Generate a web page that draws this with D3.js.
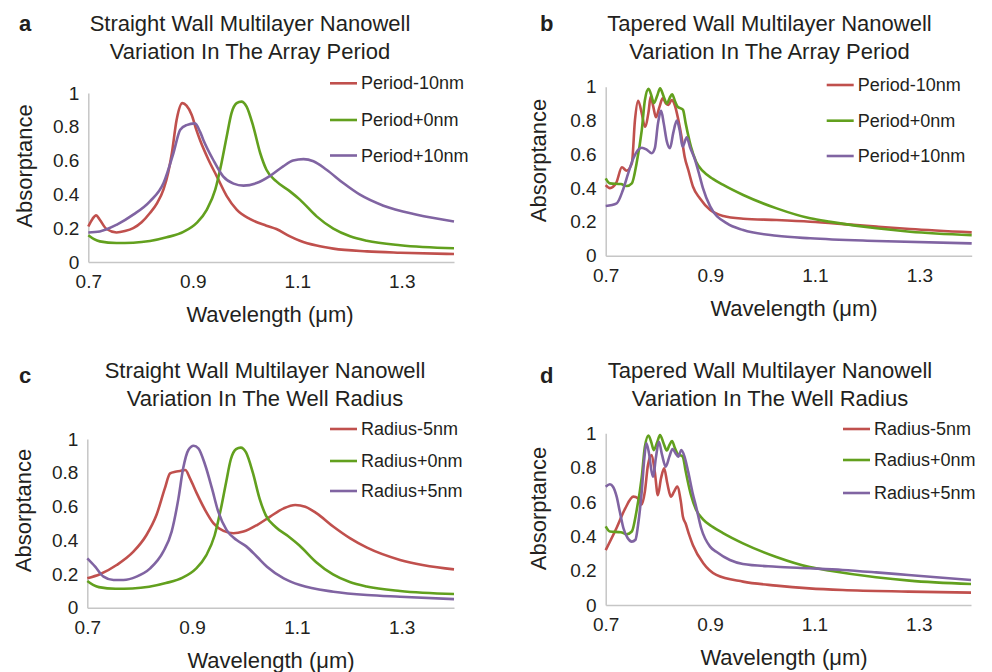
<!DOCTYPE html>
<html>
<head>
<meta charset="utf-8">
<script src="https://cdn.jsdelivr.net/npm/d3@7"></script>
<style>
    body { margin: 0; background: #fff; }
    svg text { font-family: "Liberation Sans", Arial, Helvetica, sans-serif; fill: #231f20; }
</style>
</head>
<body>
<div id="chart-area"></div>
<script>
// values, [wavelength (um), absorptance]

// straight wall, period variation (a)
const straightPeriodMinus10 = [[0.700,0.21],[0.708,0.255],[0.715,0.276],[0.722,0.25],[0.735,0.195],[0.754,0.175],[0.770,0.183],[0.786,0.20],[0.802,0.235],[0.818,0.29],[0.832,0.35],[0.844,0.43],[0.853,0.53],[0.860,0.645],[0.869,0.84],[0.880,0.94],[0.888,0.925],[0.898,0.87],[0.907,0.78],[0.914,0.72],[0.930,0.605],[0.946,0.507],[0.965,0.39],[0.984,0.31],[1.009,0.255],[1.041,0.215],[1.060,0.195],[1.086,0.152],[1.105,0.126],[1.137,0.097],[1.169,0.079],[1.233,0.063],[1.297,0.055],[1.400,0.047]];
// the +0nm curve is the same structure in a and c
const straightBase = [[0.700,0.158],[0.711,0.135],[0.722,0.122],[0.754,0.112],[0.786,0.114],[0.818,0.124],[0.850,0.146],[0.882,0.178],[0.907,0.23],[0.927,0.31],[0.943,0.428],[0.955,0.586],[0.965,0.744],[0.974,0.88],[0.984,0.94],[0.993,0.949],[1.003,0.92],[1.016,0.80],[1.029,0.645],[1.041,0.546],[1.060,0.477],[1.086,0.418],[1.105,0.369],[1.137,0.27],[1.169,0.197],[1.201,0.152],[1.233,0.126],[1.297,0.099],[1.400,0.081]];
const straightPeriodPlus10 = [[0.700,0.175],[0.722,0.181],[0.754,0.22],[0.786,0.28],[0.818,0.359],[0.844,0.467],[0.863,0.645],[0.876,0.783],[0.888,0.81],[0.904,0.82],[0.914,0.77],[0.920,0.724],[0.939,0.605],[0.958,0.507],[0.978,0.464],[0.997,0.452],[1.022,0.467],[1.048,0.51],[1.073,0.566],[1.092,0.60],[1.112,0.609],[1.131,0.596],[1.156,0.546],[1.188,0.467],[1.220,0.398],[1.265,0.333],[1.329,0.28],[1.400,0.24]];

// tapered wall, period variation (b)
const taperedPeriodMinus10 = [[0.700,0.418],[0.708,0.40],[0.720,0.43],[0.731,0.523],[0.740,0.503],[0.750,0.546],[0.756,0.803],[0.762,0.917],[0.769,0.842],[0.775,0.763],[0.782,0.852],[0.786,0.941],[0.791,0.882],[0.796,0.819],[0.803,0.882],[0.809,0.931],[0.815,0.902],[0.820,0.892],[0.826,0.921],[0.832,0.892],[0.839,0.803],[0.845,0.704],[0.851,0.586],[0.858,0.507],[0.867,0.408],[0.880,0.34],[0.900,0.27],[0.925,0.235],[0.963,0.219],[1.027,0.211],[1.091,0.201],[1.155,0.187],[1.218,0.172],[1.282,0.158],[1.400,0.138]];
// the +0nm curve is the same structure in b and d
const taperedBase = [[0.700,0.458],[0.708,0.428],[0.729,0.424],[0.740,0.412],[0.750,0.428],[0.759,0.546],[0.769,0.743],[0.775,0.921],[0.782,0.987],[0.788,0.941],[0.792,0.902],[0.799,0.951],[0.804,0.99],[0.811,0.941],[0.817,0.90],[0.822,0.931],[0.827,0.955],[0.833,0.911],[0.838,0.88],[0.845,0.87],[0.848,0.862],[0.853,0.783],[0.863,0.645],[0.873,0.556],[0.886,0.50],[0.905,0.455],[0.924,0.42],[0.963,0.359],[1.027,0.28],[1.091,0.221],[1.130,0.20],[1.218,0.162],[1.282,0.142],[1.400,0.122]];
const taperedPeriodPlus10 = [[0.700,0.294],[0.721,0.31],[0.733,0.389],[0.743,0.487],[0.753,0.576],[0.762,0.626],[0.769,0.639],[0.779,0.626],[0.788,0.606],[0.794,0.636],[0.800,0.783],[0.806,0.857],[0.811,0.783],[0.817,0.675],[0.823,0.636],[0.829,0.724],[0.836,0.799],[0.842,0.734],[0.847,0.645],[0.855,0.70],[0.861,0.645],[0.871,0.566],[0.880,0.468],[0.886,0.40],[0.900,0.29],[0.932,0.191],[0.963,0.152],[1.027,0.118],[1.091,0.103],[1.218,0.087],[1.400,0.073]];

// straight wall, radius variation (c)
const straightRadiusMinus5 = [[0.700,0.174],[0.724,0.198],[0.756,0.253],[0.788,0.332],[0.813,0.431],[0.832,0.549],[0.848,0.707],[0.858,0.796],[0.868,0.806],[0.877,0.81],[0.887,0.816],[0.896,0.767],[0.909,0.678],[0.925,0.579],[0.941,0.50],[0.960,0.455],[0.979,0.441],[0.998,0.451],[1.024,0.49],[1.049,0.54],[1.075,0.589],[1.097,0.609],[1.116,0.599],[1.138,0.559],[1.170,0.48],[1.202,0.411],[1.234,0.356],[1.297,0.283],[1.400,0.227]];
const straightRadiusPlus5 = [[0.700,0.292],[0.715,0.243],[0.731,0.184],[0.750,0.164],[0.769,0.164],[0.794,0.184],[0.820,0.233],[0.845,0.332],[0.861,0.451],[0.874,0.648],[0.883,0.826],[0.893,0.935],[0.903,0.96],[0.912,0.945],[0.925,0.846],[0.938,0.707],[0.950,0.569],[0.966,0.46],[0.985,0.401],[1.004,0.362],[1.024,0.302],[1.043,0.243],[1.075,0.174],[1.106,0.134],[1.170,0.095],[1.234,0.075],[1.297,0.065],[1.400,0.051]];

// tapered wall, radius variation (d)
const taperedRadiusMinus5 = [[0.700,0.32],[0.721,0.45],[0.737,0.56],[0.753,0.631],[0.762,0.621],[0.769,0.585],[0.775,0.66],[0.781,0.816],[0.788,0.874],[0.794,0.777],[0.800,0.64],[0.806,0.738],[0.812,0.796],[0.818,0.709],[0.825,0.631],[0.831,0.66],[0.837,0.69],[0.844,0.602],[0.848,0.514],[0.853,0.476],[0.860,0.408],[0.867,0.35],[0.887,0.243],[0.912,0.175],[0.963,0.136],[1.027,0.113],[1.090,0.097],[1.154,0.087],[1.280,0.078],[1.400,0.072]];
const taperedRadiusPlus5 = [[0.700,0.689],[0.708,0.703],[0.714,0.689],[0.721,0.631],[0.727,0.544],[0.734,0.447],[0.742,0.39],[0.750,0.369],[0.757,0.38],[0.762,0.466],[0.769,0.66],[0.774,0.854],[0.778,0.942],[0.783,0.883],[0.788,0.777],[0.791,0.747],[0.796,0.854],[0.802,0.951],[0.808,0.874],[0.815,0.806],[0.822,0.864],[0.828,0.909],[0.834,0.883],[0.839,0.864],[0.845,0.903],[0.851,0.864],[0.858,0.777],[0.866,0.66],[0.874,0.563],[0.883,0.447],[0.900,0.34],[0.912,0.31],[0.938,0.262],[0.963,0.239],[1.027,0.223],[1.090,0.214],[1.154,0.204],[1.218,0.19],[1.280,0.175],[1.400,0.146]];

const periodNames = ["Period-10nm", "Period+0nm", "Period+10nm"];
const radiusNames = ["Radius-5nm", "Radius+0nm", "Radius+5nm"];
const xTicks = [0.7, 0.9, 1.1, 1.3];
const yTicks = [0, 0.2, 0.4, 0.6, 0.8, 1];
const xDomain = [0.7, 1.4];
const yDomain = [0, 1];
const lineColors = ["#c0504d", "#62a01e", "#8064a2"];

let panels = [
    { letter: "a", title: ["Straight Wall Multilayer Nanowell", "Variation In The Array Period"],
      names: periodNames, series: [straightPeriodMinus10, straightBase, straightPeriodPlus10],
      left: 88.3, right: 454, top: 93, bottom: 262,
      letterX: 19, letterY: 31, titleX: 250, titleY: 31,
      xLabelX: 270, yLabelX: 24, yLabelY: 166,
      legendX: 330, legendY: [83.3, 120, 155.5] },
    { letter: "b", title: ["Tapered Wall Multilayer Nanowell", "Variation In The Array Period"],
      names: periodNames, series: [taperedPeriodMinus10, taperedBase, taperedPeriodPlus10],
      left: 605.7, right: 971.7, top: 86.7, bottom: 255.7,
      letterX: 540, letterY: 31, titleX: 769.5, titleY: 31,
      xLabelX: 794, yLabelX: 538.5, yLabelY: 160.5,
      legendX: 826.7, legendY: [85, 120.7, 156] },
    { letter: "c", title: ["Straight Wall Multilayer Nanowell", "Variation In The Well Radius"],
      names: radiusNames, series: [straightRadiusMinus5, straightBase, straightRadiusPlus5],
      left: 87.3, right: 454, top: 439, bottom: 607.7,
      letterX: 19, letterY: 383, titleX: 265, titleY: 378,
      xLabelX: 271, yLabelX: 23.5, yLabelY: 510.5,
      legendX: 330, legendY: [429, 461, 491] },
    { letter: "d", title: ["Tapered Wall Multilayer Nanowell", "Variation In The Well Radius"],
      names: radiusNames, series: [taperedRadiusMinus5, taperedBase, taperedRadiusPlus5],
      left: 605.7, right: 971, top: 433.3, bottom: 605,
      letterX: 540, letterY: 383, titleX: 770, titleY: 378,
      xLabelX: 784, yLabelX: 538.5, yLabelY: 508.5,
      legendX: 843, legendY: [429, 460, 493] }
];

let svg = d3.select("#chart-area").append("svg")
    .attr("width", 992)
    .attr("height", 672);

panels.forEach(function (p) {
    let g = svg.append("g");

    let x = d3.scaleLinear().domain(xDomain).range([p.left, p.right]);
    let y = d3.scaleLinear().domain(yDomain).range([p.bottom, p.top]);

    // panel letter + two line title
    g.append("text")
        .attr("x", p.letterX)
        .attr("y", p.letterY)
        .attr("font-size", 22)
        .attr("font-weight", "bold")
        .text(p.letter);

    p.title.forEach(function (t, i) {
        g.append("text")
            .attr("x", p.titleX)
            .attr("y", p.titleY + i * 27.5)
            .attr("text-anchor", "middle")
            .attr("font-size", 22)
            .text(t);
    });

    let xAxis = d3.axisBottom(x)
        .tickValues(xTicks)
        .tickSize(0)
        .tickPadding(12.5)
        .tickFormat(d3.format(".1f"));

    let yAxis = d3.axisLeft(y)
        .tickValues(yTicks)
        .tickSize(0)
        .tickPadding(9)
        .tickFormat(d3.format("~g"));

    let gx = g.append("g")
        .attr("transform", "translate(0," + p.bottom + ")")
        .call(xAxis);

    let gy = g.append("g")
        .attr("transform", "translate(" + p.left + ",0)")
        .call(yAxis);

    [gx, gy].forEach(function (ax) {
        ax.attr("font-size", 19).attr("font-family", null);
        ax.select(".domain").attr("stroke", "#c6c6c6").attr("stroke-width", 1.5);
        ax.selectAll(".tick text").attr("fill", "#231f20");
    });

    g.append("text")
        .attr("x", p.xLabelX)
        .attr("y", p.bottom + 60)
        .attr("text-anchor", "middle")
        .attr("font-size", 22)
        .text("Wavelength (\u03bcm)");

    g.append("text")
        .attr("transform", "translate(" + p.yLabelX + "," + p.yLabelY + ") rotate(-90)")
        .attr("text-anchor", "middle")
        .attr("dominant-baseline", "central")
        .attr("font-size", 22)
        .text("Absorptance");

    let line = d3.line()
        .x(d => x(d[0]))
        .y(d => y(d[1]))
        .curve(d3.curveMonotoneX);

    p.series.forEach(function (s, i) {
        g.append("path")
            .datum(s)
            .attr("fill", "none")
            .attr("stroke", lineColors[i])
            .attr("stroke-width", 2.6)
            .attr("stroke-linejoin", "round")
            .attr("d", line);
    });

    // legend
    p.names.forEach(function (name, i) {
        g.append("line")
            .attr("x1", p.legendX)
            .attr("x2", p.legendX + 27)
            .attr("y1", p.legendY[i])
            .attr("y2", p.legendY[i])
            .attr("stroke", lineColors[i])
            .attr("stroke-width", 2.6);

        g.append("text")
            .attr("x", p.legendX + 31)
            .attr("y", p.legendY[i])
            .attr("dominant-baseline", "central")
            .attr("font-size", 18)
            .text(name);
    });
});
</script>
</body>
</html>
